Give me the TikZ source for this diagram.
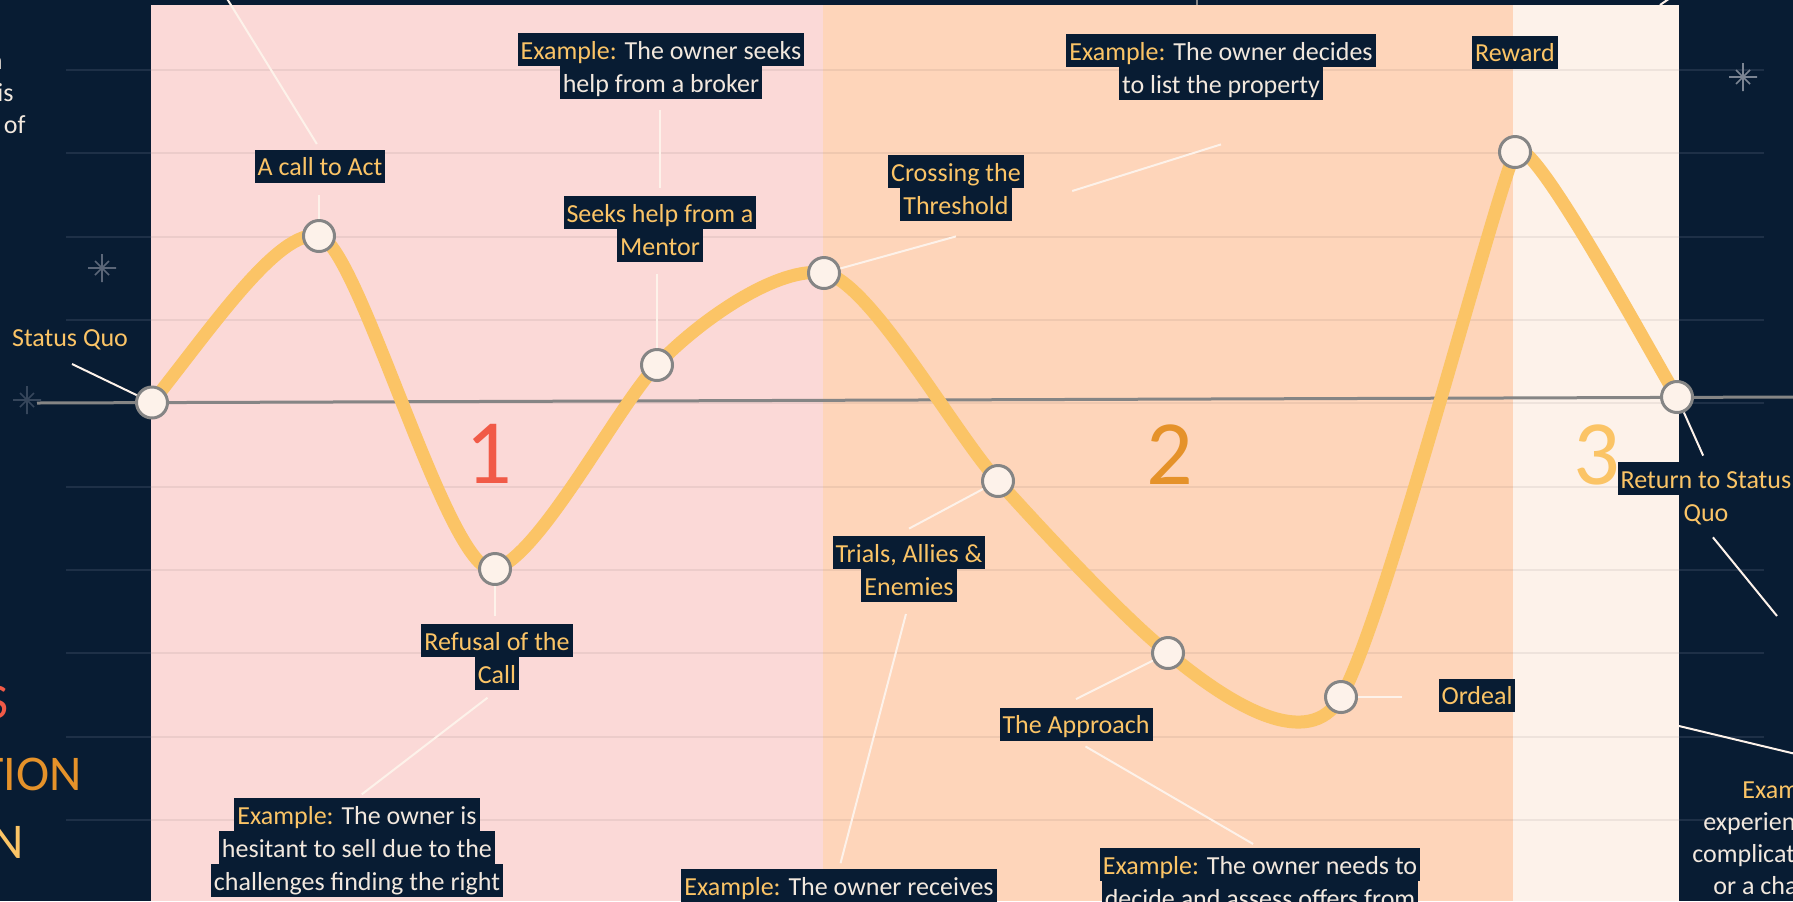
\documentclass[tikz,border=0pt]{standalone}
\usepackage{fontspec}
\setmainfont{Carlito}
\usepackage{xcolor}
\usepackage{tikz}
\definecolor{navy}{HTML}{081C33}
\definecolor{gold}{HTML}{FBC466}
\definecolor{ember}{HTML}{F15A47}
\definecolor{amber}{HTML}{E5922A}
\definecolor{blush}{HTML}{FBD9D7}
\definecolor{apricot}{HTML}{FED5BA}
\definecolor{linen}{HTML}{FDF2EA}
\definecolor{chalk}{HTML}{F2E8DE}
\definecolor{slate}{HTML}{1E3047}
\definecolor{axisgray}{HTML}{858585}
\definecolor{spark}{HTML}{5B6678}
\newcommand{\hl}[1]{{\setlength{\fboxsep}{0pt}\colorbox{navy}{\rule[-3.5pt]{0pt}{16.5pt}\hspace{1.5pt}#1\hspace{1.5pt}}}}
\newcommand{\ex}{\textcolor{gold}{Example:}}

\begin{document}
\begin{tikzpicture}[x=0.5pt, y=-0.5pt,
  stage/.style={circle, draw=axisgray, fill=linen, line width=1.5pt, minimum size=15.5pt, inner sep=0pt},
  tag/.style={font=\fontsize{13}{16.5}\selectfont, text=gold, align=center, inner sep=0pt},
  note/.style={tag, text=chalk},
  lead/.style={draw=linen, line width=1pt},
  wave/.style={draw=gold, line width=6.5pt},
  digit/.style={font=\fontsize{46}{50}\selectfont, inner sep=0pt, anchor=base},
  big/.style={font=\fontsize{25}{30}\selectfont, inner sep=0pt, anchor=base east},
  spark/.pic={\draw[line width=0.8pt] (-14,0) -- (14,0) (0,-14) -- (0,14) (-7,-7) -- (7,7) (-7,7) -- (7,-7);}]
  \useasboundingbox (0,0) rectangle (1793,901);
  \fill[navy] (0,0) rectangle (1793,901);
  \fill[blush] (151,5) rectangle (823,901);
  \fill[apricot] (823,5) rectangle (1513,901);
  \fill[linen] (1513,5) rectangle (1679,901);
  \foreach \gy in {70,153,237,320,403,487,570,653,737,820}{
    \draw[slate, line width=1pt] (66,\gy) -- (151,\gy) (1679,\gy) -- (1764,\gy);
    \draw[black, opacity=.06, line width=1pt] (151,\gy) -- (1679,\gy);
  }
  \pic[color=spark] at (102,268) {spark};
  \pic[color=slate!60!spark] at (27,400) {spark};
  \pic[color=spark!80!white] at (1743,77) {spark};

  \node[note, anchor=north east, align=right, font=\fontsize{13}{16}\selectfont] (leftnote) at (26,47)
    {\strut an\rule{11.5pt}{0pt}\\this\rule{6pt}{0pt}\\of};
  \node[big, text=ember] (redword) at (9,718) {S};
  \node[big, text=amber] (amberword) at (82,790) {TION};
  \node[big, text=gold] (goldword) at (24,858) {N};

  \node[digit, text=ember] (one) at (489,483) {1};
  \node[digit, text=amber] (two) at (1170,484) {2};
  \node[digit, text=gold] (three) at (1597,484) {3};

  \coordinate (axl) at (37,403);
  \coordinate (axr) at (1793,397);
  \draw[axisgray, line width=1.5pt] (axl) -- (axr);

  \coordinate (p1) at (152,402.5);
  \coordinate (p2) at (319,236);
  \coordinate (p3) at (495,569);
  \coordinate (p4) at (657,365);
  \coordinate (p5) at (824,273);
  \coordinate (p6) at (998,481);
  \coordinate (p7) at (1168,653);
  \coordinate (p8) at (1341,697);
  \coordinate (p9) at (1515,152);
  \coordinate (p10) at (1677,397);
  \draw[wave] (p1) .. controls +(60,-75) and +(-40,-8) .. (p2)
    .. controls +(40,8) and +(-45,13) .. (p3)
    .. controls +(45,-13) and +(-40,42) .. (p4)
    .. controls +(45,-47) and +(-45,-7) .. (p5)
    .. controls +(45,7) and +(-45,-50) .. (p6)
    .. controls +(45,50) and +(-45,-36) .. (p7)
    .. controls +(62,52) and +(-32,56) .. (p8)
    .. controls +(44,-77) and +(-25,60) .. (p9)
    .. controls +(12,-29) and +(-30,-50) .. (p10);

  \node[stage] (sq) at (p1) {};
  \node[stage] (call) at (p2) {};
  \node[stage] (refuse) at (p3) {};
  \node[stage] (mentor) at (p4) {};
  \node[stage] (cross) at (p5) {};
  \node[stage] (trials) at (p6) {};
  \node[stage] (approach) at (p7) {};
  \node[stage] (ordeal) at (p8) {};
  \node[stage] (reward) at (p9) {};
  \node[stage] (back) at (p10) {};

  \node[tag] (sqtag) at (70,340) {Status Quo};
  \node[tag] (calltag) at (320,166) {\hl{A call to Act}};
  \node[tag] (refusetag) at (497,657) {\hl{Refusal of the}\\\hl{Call}};
  \node[note, anchor=north] (refusenote) at (357,798)
    {\hl{\ex{} The owner is}\\\hl{hesitant to sell due to the}\\\hl{challenges finding the right}};
  \node[tag] (mentortag) at (660,229) {\hl{Seeks help from a}\\\hl{Mentor}};
  \node[note] (mentornote) at (661,66) {\hl{\ex{} The owner seeks}\\\hl{help from a broker}};
  \node[tag] (crosstag) at (956,188) {\hl{Crossing the}\\\hl{Threshold}};
  \node[note] (crossnote) at (1221,67) {\hl{\ex{} The owner decides}\\\hl{to list the property}};
  \node[tag] (trialstag) at (909,569) {\hl{Trials, Allies \&}\\\hl{Enemies}};
  \node[note, anchor=north] (trialsnote) at (839,869) {\hl{\ex{} The owner receives}};
  \node[tag] (approachtag) at (1076,724) {\hl{The Approach}};
  \node[note, anchor=north] (approachnote) at (1260,848)
    {\hl{\ex{} The owner needs to}\\\hl{decide and assess offers from}};
  \node[tag] (ordealtag) at (1477,695) {\hl{Ordeal}};
  \node[tag] (rewardtag) at (1515,52) {\hl{Reward}};
  \node[tag, anchor=north] (backtag) at (1706,462) {\hl{Return to Status}\\\hl{Quo}};
  \node[note, anchor=north west, align=left, font=\fontsize{13}{16}\selectfont] (endnote) at (1692,776)
    {\strut\rule{25pt}{0pt}\textcolor{gold}{Example:} The\\\rule{5.5pt}{0pt}experiences\\complications\\\rule{10.5pt}{0pt}or a change};

  \coordinate (sqend) at (72,364);
  \draw[lead] (sq) -- (sqend);
  \draw[lead, shorten >=6pt] (call) -- (call |- calltag.south);
  \coordinate (callfrom) at (226,-3);
  \draw[lead, shorten >=3pt] (callfrom) -- (calltag.north);
  \draw[lead, shorten >=4pt] (refuse) -- (refuse |- refusetag.north);
  \draw[lead, shorten <=6pt, shorten >=3pt] (refusetag.south) -- (refusenote.north);
  \draw[lead, shorten >=6pt] (mentor) -- (mentor |- mentortag.south);
  \draw[lead, shorten <=4pt, shorten >=5.5pt] (mentortag.north) -- (mentortag.north |- mentornote.south);
  \draw[lead] (cross) -- ([yshift=-7.5pt]crosstag.south);
  \draw[lead] ([xshift=24pt, yshift=-1.5pt]crosstag.east) -- ([yshift=-22pt]crossnote.south);
  \draw[lead] (trials) -- ([yshift=3.5pt]trialstag.north);
  \draw[lead, shorten <=6pt, shorten >=3pt] (trialstag.south) -- (trialsnote.north);
  \draw[lead] (approach) -- ([yshift=4pt]approachtag.north);
  \draw[lead, shorten <=5.5pt, shorten >=4pt] (approachtag.south) -- (approachnote.north);
  \draw[lead, shorten >=18pt] (ordeal) -- (ordeal -| ordealtag.west);
  \draw[lead, shorten >=3.5pt] (back) -- (backtag.north);
  \coordinate (backend) at (1777,616);
  \draw[lead, shorten <=5.5pt] (backtag.south) -- (backend);
  \coordinate (ordealout) at (1679,726);
  \coordinate (ordealfar) at (1800,755);
  \draw[lead] (ordealout) -- (ordealfar);
  \coordinate (topout) at (1660,5);
  \coordinate (topfar) at (1673,-4);
  \draw[lead] (topout) -- (topfar);
  \coordinate (topmark) at (1197,-2);
  \coordinate (topmarkend) at (1197,5);
  \draw[axisgray, line width=1pt] (topmark) -- (topmarkend);
\end{tikzpicture}
\end{document}
